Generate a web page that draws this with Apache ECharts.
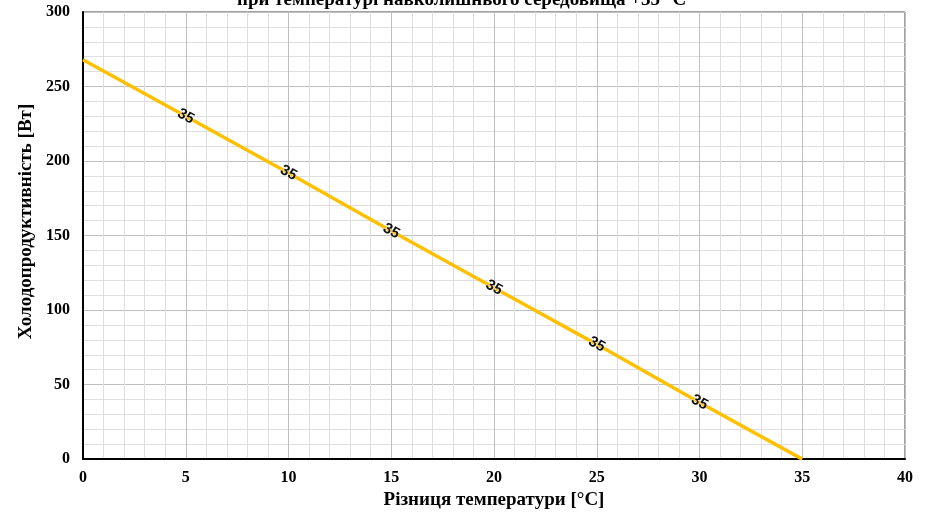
<!DOCTYPE html>
<html><head><meta charset="utf-8">
<script src="https://cdn.jsdelivr.net/npm/echarts@6/dist/echarts.min.js"></script>
<style>html,body{margin:0;padding:0;background:#fff}#c{width:935px;height:515px}</style>
</head><body><div id="c"></div>
<script>
const titleText = 'при температурі навколишнього середовища +35 °C';
const xName = 'Різниця температури [°C]';
const yName = 'Холодопродуктивність [Вт]';
const xValues = [0, 5, 10, 15, 20, 25, 30, 35];
const yValues = [268, 230, 192, 153, 115, 77, 38, 0];
const pointLabels = ['', '35', '35', '35', '35', '35', '35', ''];

const serif = '"Liberation Serif", "DejaVu Serif", serif';
const chart = echarts.init(document.getElementById('c'));
chart.setOption({
  animation: false,
  title: {
    text: titleText, left: 232, top: -14,
    textStyle: {fontFamily: serif, fontWeight: 'bold', fontSize: 19, color: '#000'}
  },
  grid: {left: 83, right: 30, top: 12, bottom: 53, show: true, borderColor: '#444', borderWidth: 1},
  xAxis: {
    type: 'value', min: 0, max: 40, interval: 5,
    name: xName, nameLocation: 'middle', nameGap: 31,
    nameTextStyle: {fontFamily: serif, fontWeight: 'bold', fontSize: 19, color: '#000'},
    axisLine: {show: true, onZero: false, lineStyle: {color: '#000', width: 2}},
    axisTick: {show: false},
    axisLabel: {fontFamily: serif, fontWeight: 'bold', fontSize: 16, color: '#000', margin: 11},
    splitLine: {show: true, lineStyle: {color: '#bfbfbf', width: 1}},
    minorTick: {show: false, splitNumber: 5},
    minorSplitLine: {show: true, lineStyle: {color: '#dedede', width: 1}}
  },
  yAxis: {
    type: 'value', min: 0, max: 300, interval: 50,
    name: yName, nameLocation: 'middle', nameGap: 45,
    nameTextStyle: {fontFamily: serif, fontWeight: 'bold', fontSize: 19, color: '#000', padding: [0, 0, 0, 28]},
    axisLine: {show: true, onZero: false, lineStyle: {color: '#000', width: 2}},
    axisTick: {show: false},
    axisLabel: {fontFamily: serif, fontWeight: 'bold', fontSize: 16, color: '#000', margin: 13},
    splitLine: {show: true, lineStyle: {color: '#bfbfbf', width: 1}},
    minorTick: {show: false, splitNumber: 5},
    minorSplitLine: {show: true, lineStyle: {color: '#dedede', width: 1}}
  },
  series: [{
    type: 'line',
    data: xValues.map((x, i) => [x, yValues[i]]),
    showSymbol: true, symbol: 'circle', symbolSize: 1,
    lineStyle: {color: '#FFC000', width: 3.5},
    itemStyle: {color: 'rgba(0,0,0,0)'},
    label: {
      show: true, position: 'inside', rotate: -29,
      formatter: p => pointLabels[p.dataIndex],
      fontFamily: '"Liberation Sans", "DejaVu Sans", sans-serif', fontWeight: 'bold',
      fontSize: 15, color: '#111', textBorderColor: 'rgba(255,255,255,0.7)', textBorderWidth: 1
    }
  }]
});
</script></body></html>
